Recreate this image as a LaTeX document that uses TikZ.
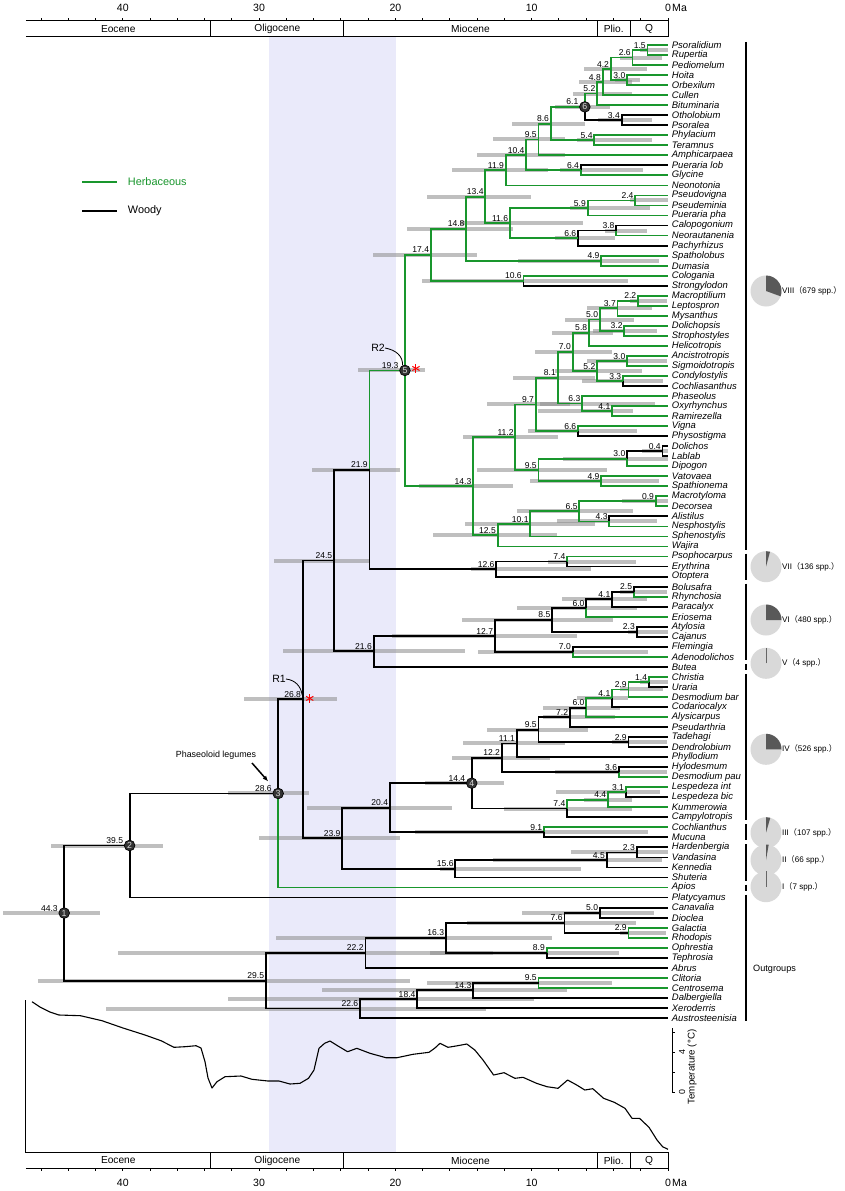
\documentclass[tikz,border=0pt]{standalone}
\usepackage{fontspec}
\setmainfont{Liberation Sans}
\newfontfamily\cjk{Noto Sans CJK SC}
\usetikzlibrary{arrows.meta,calc}
\pgfdeclarelayer{bg}
\pgfdeclarelayer{bars}
\pgfsetlayers{bg,bars,main}
\definecolor{gr}{RGB}{25,150,45}
\definecolor{bk}{RGB}{0,0,0}
\definecolor{bandc}{RGB}{234,234,250}
% name, age, child1, colour1, child2, colour2, bar left, bar right, label shift
\newcommand\Clade[9]{%
  \path (#3) -- (#5) coordinate[pos=0.5] (cmid);
  \coordinate (cxx) at ({668-13.63*#2},0);
  \coordinate (#1) at (cxx |- cmid);
  \begin{pgfonlayer}{bars}
    \draw[hpd] (#1) ++({#7-668+13.63*#2},0) -- ++({#8-#7},0);
  \end{pgfonlayer}
  \draw[br,#4] (#1) |- (#3);
  \draw[br,#6] (#1) |- (#5);
  \node[agel,xshift=#9] (#1l) at (#1) {#2};
}
\begin{document}
\begin{tikzpicture}[x=0.3mm,y=-0.3mm,
  br/.style={line width=0.55mm},
  hpd/.style={line width=1.2mm,black!45,opacity=.55},
  tip/.style={anchor=west,inner sep=0pt,xshift=1.1mm,font=\fontsize{8.1}{8.1}\selectfont\itshape},
  agel/.style={anchor=south east,inner sep=0.5pt,yshift=0.3mm,font=\fontsize{7.3}{7.3}\selectfont},
  circ/.style={circle,fill=black!80,draw=black,line width=0.2mm,inner sep=0pt,minimum size=3.2mm,text=white!85!black,font=\fontsize{7.5}{7.5}\selectfont},
  axl/.style={line width=0.3mm},
  axlab/.style={font=\fontsize{9}{9}\selectfont,inner sep=0pt},
  eplab/.style={font=\fontsize{8.7}{8.7}\selectfont,inner sep=0pt},
  brk/.style={line width=0.5mm},
  pielab/.style={anchor=west,inner sep=0pt,font=\fontsize{6.9}{6.9}\selectfont},
  light/.style={fill=black!15},
  dark/.style={fill=black!65},
  ast/.style={red,line width=0.3mm}]
\useasboundingbox (0,0) rectangle (844,1191);
\begin{pgfonlayer}{bg}
  \fill[white] (0,0) rectangle (844,1191);
  \fill[bandc] (269.3,36.7) rectangle (396,1152.7);
\end{pgfonlayer}

% ---------- tips ----------
\foreach \nm [count=\i] in {Psoralidium, Rupertia, Pediomelum, Hoita, Orbexilum, Cullen, Bituminaria, Otholobium, Psoralea, Phylacium, Teramnus, Amphicarpaea, Pueraria lob, Glycine, Neonotonia, Pseudovigna, Pseudeminia, Pueraria pha, Calopogonium, Neorautanenia, Pachyrhizus, Spatholobus, Dumasia, Cologania, Strongylodon, Macroptilium, Leptospron, Mysanthus, Dolichopsis, Strophostyles, Helicotropis, Ancistrotropis, Sigmoidotropis, Condylostylis, Cochliasanthus, Phaseolus, Oxyrhynchus, Ramirezella, Vigna, Physostigma, Dolichos, Lablab, Dipogon, Vatovaea, Spathionema, Macrotyloma, Decorsea, Alistilus, Nesphostylis, Sphenostylis, Wajira, Psophocarpus, Erythrina, Otoptera, Bolusafra, Rhynchosia, Paracalyx, Eriosema, Atylosia, Cajanus, Flemingia, Adenodolichos, Butea, Christia, Uraria, Desmodium bar, Codariocalyx, Alysicarpus, Pseudarthria, Tadehagi, Dendrolobium, Phyllodium, Hylodesmum, Desmodium pau, Lespedeza int, Lespedeza bic, Kummerowia, Campylotropis, Cochlianthus, Mucuna, Hardenbergia, Vandasina, Kennedia, Shuteria, Apios, Platycyamus, Canavalia, Dioclea, Galactia, Rhodopis, Ophrestia, Tephrosia, Abrus, Clitoria, Centrosema, Dalbergiella, Xeroderris, Austrosteenisia}
{
  \coordinate (t\i) at (668,{45+10.03*(\i-1)});
  \node[tip] (L\i) at (t\i) {\nm};
}

% ---------- clade VIII ----------
\Clade{a1}{1.5}{t1}{gr}{t2}{gr}{640}{668}{-0.3mm}
\Clade{a2}{2.6}{a1}{gr}{t3}{gr}{620}{662}{-0.3mm}
\Clade{a3}{3.0}{t4}{gr}{t5}{gr}{615}{640}{-0.3mm}
\Clade{a4}{4.2}{a2}{gr}{a3}{gr}{584}{647}{-0.3mm}
\Clade{a5}{4.8}{a4}{gr}{t6}{gr}{579}{632}{-0.3mm}
\Clade{a6}{5.2}{a5}{gr}{t7}{gr}{573}{632}{-0.3mm}
\Clade{a7}{3.4}{t8}{bk}{t9}{bk}{598}{652}{-0.3mm}
\Clade{a8}{6.1}{a6}{gr}{a7}{bk}{555}{610}{-1.7mm}
\Clade{a9}{5.4}{t10}{gr}{t11}{gr}{577}{652}{-0.3mm}
\Clade{a10}{8.6}{a8}{gr}{a9}{gr}{512}{585}{-0.3mm}
\Clade{a11}{9.5}{a10}{gr}{t12}{gr}{493}{565}{-0.3mm}
\Clade{a12}{6.4}{t13}{bk}{t14}{gr}{560}{643}{-0.3mm}
\Clade{a13}{10.4}{a11}{gr}{a12}{gr}{477}{565}{-0.3mm}
\Clade{a14}{11.9}{a13}{gr}{t15}{gr}{452}{548}{-0.3mm}
\Clade{a15}{2.4}{t16}{gr}{t17}{gr}{630}{668}{-0.3mm}
\Clade{a16}{5.9}{a15}{gr}{t18}{gr}{570}{650}{-0.3mm}
\Clade{a17}{3.8}{t19}{bk}{t20}{gr}{605}{647}{-0.3mm}
\Clade{a18}{6.6}{a17}{bk}{t21}{bk}{555}{615}{-0.3mm}
\Clade{a19}{11.6}{a16}{gr}{a18}{gr}{460}{583}{-0.3mm}
\Clade{a20}{13.4}{a14}{gr}{a19}{gr}{427}{531}{-0.3mm}
\Clade{a21}{4.9}{t22}{gr}{t23}{gr}{518}{659}{-0.3mm}
\Clade{a22}{14.8}{a20}{gr}{a21}{gr}{407}{513}{-0.3mm}
\Clade{a23}{10.6}{t24}{gr}{t25}{bk}{422}{628}{-0.3mm}
\Clade{a24}{17.4}{a22}{gr}{a23}{gr}{373}{477}{-0.3mm}
\Clade{b1}{2.2}{t26}{gr}{t27}{gr}{630}{667}{-0.3mm}
\Clade{b2}{3.7}{b1}{gr}{t28}{gr}{587}{652}{-0.3mm}
\Clade{b3}{3.2}{t29}{gr}{t30}{gr}{593}{657}{-0.3mm}
\Clade{b4}{5.0}{b2}{gr}{b3}{gr}{565}{634}{-0.3mm}
\Clade{b5}{5.8}{b4}{gr}{t31}{gr}{552}{613}{-0.3mm}
\Clade{b6}{3.0}{t32}{gr}{t33}{gr}{587}{667}{-0.3mm}
\Clade{b7}{3.3}{t34}{gr}{t35}{bk}{582}{663}{-0.3mm}
\Clade{b8}{5.2}{b6}{gr}{b7}{gr}{555}{642}{-0.3mm}
\Clade{b9}{7.0}{b5}{gr}{b8}{gr}{535}{612}{-0.3mm}
\Clade{b10}{4.1}{t37}{gr}{t38}{gr}{538}{633}{-0.3mm}
\Clade{b11}{6.3}{t36}{gr}{b10}{gr}{540}{655}{-0.3mm}
\Clade{b12}{8.1}{b9}{gr}{b11}{gr}{513}{595}{-0.3mm}
\Clade{b13}{6.6}{t39}{gr}{t40}{bk}{528}{637}{-0.3mm}
\Clade{b14}{9.7}{b12}{gr}{b13}{gr}{487}{570}{-0.3mm}
\Clade{b15}{0.4}{t41}{bk}{t42}{bk}{642}{668}{-0.3mm}
\Clade{b16}{3.0}{b15}{bk}{t43}{gr}{563}{668}{-0.3mm}
\Clade{b17}{4.9}{t44}{gr}{t45}{gr}{530}{659}{-0.3mm}
\Clade{b18}{9.5}{b16}{gr}{b17}{gr}{477}{607}{-0.3mm}
\Clade{b19}{11.2}{b14}{gr}{b18}{gr}{463}{558}{-0.3mm}
\Clade{b20}{0.9}{t46}{gr}{t47}{gr}{622}{668}{-0.3mm}
\Clade{b21}{4.3}{t48}{bk}{t49}{gr}{557}{657}{-0.3mm}
\Clade{b22}{6.5}{b20}{gr}{b21}{gr}{517}{633}{-0.3mm}
\Clade{b23}{10.1}{b22}{gr}{t50}{gr}{465}{595}{-0.3mm}
\Clade{b24}{12.5}{b23}{gr}{t51}{gr}{433}{557}{-0.3mm}
\Clade{b25}{14.3}{b19}{gr}{b24}{gr}{419}{513}{-0.3mm}
\Clade{n5}{19.3}{a24}{gr}{b25}{gr}{358}{425}{-1.7mm}
% ---------- clade VII ----------
\Clade{c1}{7.4}{t52}{gr}{t53}{bk}{548}{636}{-0.3mm}
\Clade{c2}{12.6}{c1}{bk}{t54}{bk}{471}{591}{-0.3mm}
\Clade{c3}{21.9}{n5}{gr}{c2}{bk}{312}{400}{-0.3mm}
% ---------- clades VI, V ----------
\Clade{d1}{2.5}{t55}{bk}{t56}{gr}{620}{667}{-0.3mm}
\Clade{d2}{4.1}{d1}{bk}{t57}{bk}{562}{647}{-0.3mm}
\Clade{d3}{6.0}{d2}{bk}{t58}{gr}{517}{637}{-0.3mm}
\Clade{d4}{2.3}{t59}{bk}{t60}{bk}{628}{668}{-0.3mm}
\Clade{d5}{8.5}{d3}{bk}{d4}{bk}{462}{613}{-0.3mm}
\Clade{d6}{7.0}{t61}{bk}{t62}{gr}{478}{648}{-0.3mm}
\Clade{d7}{12.7}{d5}{bk}{d6}{bk}{392}{577}{-0.3mm}
\Clade{d8}{21.6}{d7}{bk}{t63}{bk}{283}{465}{-0.3mm}
\Clade{d9}{24.5}{c3}{bk}{d8}{bk}{274}{370}{-0.3mm}
% ---------- clade IV ----------
\Clade{e1}{1.4}{t64}{gr}{t65}{bk}{640}{668}{-0.3mm}
\Clade{e2}{2.9}{e1}{gr}{t66}{gr}{620}{663}{-0.3mm}
\Clade{e3}{4.1}{e2}{gr}{t67}{bk}{577}{628}{-0.3mm}
\Clade{e4}{6.0}{e3}{gr}{t68}{gr}{543}{620}{-0.3mm}
\Clade{e5}{7.2}{e4}{bk}{t69}{bk}{543}{615}{-0.3mm}
\Clade{e6}{2.9}{t70}{bk}{t71}{bk}{612}{667}{-0.3mm}
\Clade{e7}{9.5}{e5}{bk}{e6}{bk}{487}{588}{-0.3mm}
\Clade{e8}{11.1}{e7}{bk}{t72}{bk}{463}{565}{-0.3mm}
\Clade{e9}{3.6}{t73}{bk}{t74}{gr}{555}{667}{-0.3mm}
\Clade{e10}{12.2}{e8}{bk}{e9}{bk}{452}{550}{-0.3mm}
\Clade{e11}{3.1}{t75}{gr}{t76}{bk}{556}{660}{-0.3mm}
\Clade{e12}{4.4}{e11}{gr}{t77}{gr}{584}{632}{-0.3mm}
\Clade{e13}{7.4}{e12}{gr}{t78}{bk}{504}{632}{-0.3mm}
\Clade{n4}{14.4}{e10}{bk}{e13}{bk}{425}{504}{-1.7mm}
% ---------- clades III, II ----------
\Clade{e14}{9.1}{t79}{gr}{t80}{bk}{415}{648}{-0.3mm}
\Clade{e15}{20.4}{n4}{bk}{e14}{bk}{307}{452}{-0.3mm}
\Clade{f1}{2.3}{t81}{bk}{t82}{bk}{571}{668}{-0.3mm}
\Clade{f2}{4.5}{f1}{bk}{t83}{bk}{493}{662}{-0.3mm}
\Clade{f3}{15.6}{f2}{bk}{t84}{bk}{440}{581}{-0.3mm}
\Clade{f4}{23.9}{e15}{bk}{f3}{bk}{259}{400}{-0.3mm}
\Clade{f5}{26.8}{d9}{bk}{f4}{bk}{244}{337}{-0.3mm}
\Clade{n3}{28.6}{f5}{bk}{t85}{gr}{228}{309}{-1.7mm}
\Clade{n2}{39.5}{n3}{bk}{t86}{bk}{51}{163}{-1.7mm}
% ---------- outgroups ----------
\Clade{h1}{5.0}{t87}{bk}{t88}{bk}{522}{654}{-0.3mm}
\Clade{h2}{2.9}{t89}{gr}{t90}{gr}{620}{666}{-0.3mm}
\Clade{h3}{7.6}{h1}{bk}{h2}{bk}{467}{636}{-0.3mm}
\Clade{h4}{8.9}{t91}{gr}{t92}{bk}{430}{619}{-0.3mm}
\Clade{h5}{16.3}{h3}{bk}{h4}{bk}{276}{552}{-0.3mm}
\Clade{h6}{22.2}{h5}{bk}{t93}{bk}{118}{493}{-0.3mm}
\Clade{h7}{9.5}{t94}{gr}{t95}{gr}{427}{612}{-0.3mm}
\Clade{h8}{14.3}{h7}{bk}{t96}{bk}{322}{567}{-0.3mm}
\Clade{h9}{18.4}{h8}{bk}{t97}{bk}{228}{534}{-0.3mm}
\Clade{h10}{22.6}{h9}{bk}{t98}{bk}{106}{486}{-0.3mm}
\Clade{h11}{29.5}{h6}{bk}{h10}{bk}{38}{410}{-0.3mm}
\Clade{n1}{44.3}{n2}{bk}{h11}{bk}{3}{100}{-1.7mm}

% ---------- numbered nodes ----------
\node[circ] (N1) at (n1) {1};
\node[circ] (N2) at (n2) {2};
\node[circ] (N3) at (n3) {3};
\node[circ] (N4) at (n4) {4};
\node[circ] (N5) at (n5) {5};
\node[circ] (N6) at (a8) {6};

% ---------- R1 / R2 and asterisks ----------
\node[font=\fontsize{9}{9}\selectfont,inner sep=0pt] (R2) at (378,348) {R2};
\draw[line width=0.25mm] (R2.east) .. controls (396,350) and (403,356) .. (N5.115);
\node[font=\fontsize{9}{9}\selectfont,inner sep=0pt] (R1) at (279,679) {R1};
\coordinate (f5t) at ($(f5)+(-0.5,-4)$);
\draw[line width=0.25mm] (R1.east) .. controls (295,680) and (301,686) .. (f5t);
\coordinate (s5) at ($(n5)+(11,-2)$);
\coordinate (s1) at ($(f5)+(7,-1)$);
\foreach \s in {s5,s1}{
  \draw[ast] (\s) +(90:1.25mm) -- +(-90:1.25mm);
  \draw[ast] (\s) +(30:1.25mm) -- +(210:1.25mm);
  \draw[ast] (\s) +(150:1.25mm) -- +(-30:1.25mm);
}

% ---------- phaseoloid legumes ----------
\node[font=\fontsize{7.6}{7.6}\selectfont,inner sep=0pt] (PL) at (216,755) {Phaseoloid legumes};
\coordinate (PLa) at (252,763);
\coordinate (PLb) at ($(n3)+(-10,-12)$);
\draw[line width=0.45mm,-{Latex[length=1.7mm,width=1.4mm]}] (PLa) -- (PLb);

% ---------- legend ----------
\coordinate (lg1) at (82,182);
\coordinate (lg2) at (82,211);
\draw[br,gr] (lg1) -- ++(35,0) node[anchor=west,inner sep=0pt,xshift=3mm,text=gr,font=\fontsize{9.3}{9.3}\selectfont] (LH) {Herbaceous};
\draw[br,bk] (lg2) -- ++(35,0) node[anchor=west,inner sep=0pt,xshift=3mm,font=\fontsize{9.3}{9.3}\selectfont] (LW) {Woody};

% ---------- top time axis ----------
\draw[axl] (25.8,21) -- (668,21) -- (668,36.7);
\draw[axl] (25.8,36.7) -- (668,36.7);
\foreach \xx in {210.8,343.9,597.1,630.4}{\draw[axl] (\xx,21) -- (\xx,36.7);}
\foreach \a in {0,2,...,46}{\draw[axl] ({668-13.63*\a},21) -- ++(0,-3);}
\foreach \a in {10,20,30,40}{\node[axlab] (top\a) at ({668-13.63*\a},8) {\a};}
\node[axlab] (top0) at (668,8) {0};
\node[axlab,anchor=west] (topMa) at (672,8) {Ma};
\node[eplab] (te1) at (118.3,28.9) {Eocene};
\node[eplab] (te2) at (277.3,28.9) {Oligocene};
\node[eplab] (te3) at (470.5,28.9) {Miocene};
\node[eplab] (te4) at (613.7,28.9) {Plio.};
\node[eplab] (te5) at (649.2,28.9) {Q};

% ---------- bottom time axis ----------
\draw[axl] (25.8,1152.7) -- (668,1152.7) -- (668,1168.3);
\draw[axl] (25.8,1168.3) -- (668,1168.3);
\foreach \xx in {210.8,343.9,597.1,630.4}{\draw[axl] (\xx,1152.7) -- (\xx,1168.3);}
\foreach \a in {0,2,...,46}{\draw[axl] ({668-13.63*\a},1168.3) -- ++(0,3);}
\foreach \a in {10,20,30,40}{\node[axlab] (bot\a) at ({668-13.63*\a},1183) {\a};}
\node[axlab] (bot0) at (668,1183) {0};
\node[axlab,anchor=west] (botMa) at (672,1183) {Ma};
\node[eplab] (be1) at (118.3,1160.5) {Eocene};
\node[eplab] (be2) at (277.3,1160.5) {Oligocene};
\node[eplab] (be3) at (470.5,1160.5) {Miocene};
\node[eplab] (be4) at (613.7,1160.5) {Plio.};
\node[eplab] (be5) at (649.2,1160.5) {Q};

% ---------- temperature curve ----------
\draw[axl] (25.8,1000) -- (25.8,1152.7);
\draw[line width=0.33mm,line join=round]
 (32,1001.7) -- (40,1007) -- (50,1012) -- (59,1015) -- (80.5,1015.7) -- (102,1020.7) -- (123,1028) -- (145,1035) -- (161,1040.7) -- (174,1047.3) -- (185,1046.7) -- (196,1045.7) -- (201,1048) -- (205,1061.7) -- (208,1078) -- (212,1088) -- (217,1081.7) -- (225,1076.7) -- (241,1076) -- (252,1079.3) -- (268,1081) -- (279,1081) -- (290,1084) -- (300,1083.3) -- (308.5,1078.3) -- (314,1070) -- (319,1048.3) -- (324.6,1043.3) -- (330,1041) -- (338,1046) -- (347.6,1051.7) -- (356.8,1048.3) -- (370,1053.3) -- (386,1057.7) -- (397,1057.7) -- (413,1054.3) -- (429,1052.3) -- (434.6,1048.3) -- (440,1043.3) -- (448,1047.3) -- (456,1046) -- (466.8,1044) -- (474.8,1050) -- (483,1060) -- (493.6,1075) -- (504,1072.7) -- (515,1078.3) -- (523,1077.3) -- (536.5,1083.3) -- (547,1086.7) -- (558,1088.3) -- (567.6,1080) -- (576.7,1085) -- (584.8,1090) -- (592.8,1088.7) -- (603.6,1098.3) -- (614.3,1102.3) -- (625,1108.3) -- (632,1118.3) -- (639.5,1118.3) -- (649,1127.3) -- (657,1140) -- (662.6,1146.7) -- (668,1149.3);
\draw[line width=0.25mm] (672,1028) -- (672,1092);
\foreach \yy in {1032,1052,1072,1092}{\draw[line width=0.25mm] (672,\yy) -- ++(3,0);}
\node[rotate=90,inner sep=0pt,font=\fontsize{7.5}{7.5}\selectfont] (T4) at (682,1052) {4};
\node[rotate=90,inner sep=0pt,font=\fontsize{7.5}{7.5}\selectfont] (T0) at (682,1092) {0};
\node[rotate=90,inner sep=0pt,font=\fontsize{8.3}{8.3}\selectfont] (TT) at (692,1067) {Temperature (°C)};

% ---------- brackets ----------
\draw[brk] ($(t1)+(78,-3)$) -- ($(t51)+(78,3)$);
\draw[brk] ($(t52)+(78,-3)$) -- ($(t54)+(78,3)$);
\draw[brk] ($(t55)+(78,-3)$) -- ($(t62)+(78,3)$);
\draw[brk] ($(t63)+(78,-3)$) -- ($(t63)+(78,3)$);
\draw[brk] ($(t64)+(78,-3)$) -- ($(t78)+(78,3)$);
\draw[brk] ($(t79)+(78,-3)$) -- ($(t80)+(78,3)$);
\draw[brk] ($(t81)+(78,-3)$) -- ($(t84)+(78,3)$);
\draw[brk] ($(t85)+(78,-3)$) -- ($(t85)+(78,3)$);
\draw[brk] ($(t86)+(78,-3)$) -- ($(t98)+(78,3)$);
\node[anchor=west,inner sep=0pt,font=\fontsize{7.8}{7.8}\selectfont] (OG) at (753,969) {Outgroups};

% ---------- pies ----------
\coordinate (p8) at (766,291);
\coordinate (p7) at (766,566.7);
\coordinate (p6) at (766,620);
\coordinate (p5) at (766,663.3);
\coordinate (p4) at (766,749.3);
\coordinate (p3) at (766,832.7);
\coordinate (p2) at (766,860);
\coordinate (p1) at (766,886.7);
\foreach \p in {p8,p7,p6,p5,p4,p3,p2,p1}{\fill[light] (\p) circle[radius=4.65mm];}
\fill[dark] (p8) -- ++(90:4.65mm) arc[start angle=90,end angle=-20,radius=4.65mm] -- cycle;
\fill[dark] (p7) -- ++(90:4.65mm) arc[start angle=90,end angle=75,radius=4.65mm] -- cycle;
\fill[dark] (p6) -- ++(90:4.65mm) arc[start angle=90,end angle=0,radius=4.65mm] -- cycle;
\draw[black!60,line width=0.3mm] (p5) -- ++(90:4.65mm);
\fill[dark] (p4) -- ++(90:4.65mm) arc[start angle=90,end angle=0,radius=4.65mm] -- cycle;
\fill[dark] (p3) -- ++(90:4.65mm) arc[start angle=90,end angle=74,radius=4.65mm] -- cycle;
\fill[dark] (p2) -- ++(90:4.65mm) arc[start angle=90,end angle=80,radius=4.65mm] -- cycle;
\draw[black!60,line width=0.3mm] (p1) -- ++(90:4.65mm);
\node[pielab] (pl8) at (782,291) {VIII{\cjk （}679 spp.{\cjk ）}};
\node[pielab] (pl7) at (782,566.7) {VII{\cjk （}136 spp.{\cjk ）}};
\node[pielab] (pl6) at (782,620) {VI{\cjk （}480 spp.{\cjk ）}};
\node[pielab] (pl5) at (782,663.3) {V{\cjk （}4 spp.{\cjk ）}};
\node[pielab] (pl4) at (782,749.3) {IV{\cjk （}526 spp.{\cjk ）}};
\node[pielab] (pl3) at (782,832.7) {III{\cjk （}107 spp.{\cjk ）}};
\node[pielab] (pl2) at (782,860) {II{\cjk （}66 spp.{\cjk ）}};
\node[pielab] (pl1) at (782,886.7) {I{\cjk （}7 spp.{\cjk ）}};
\end{tikzpicture}
\end{document}
